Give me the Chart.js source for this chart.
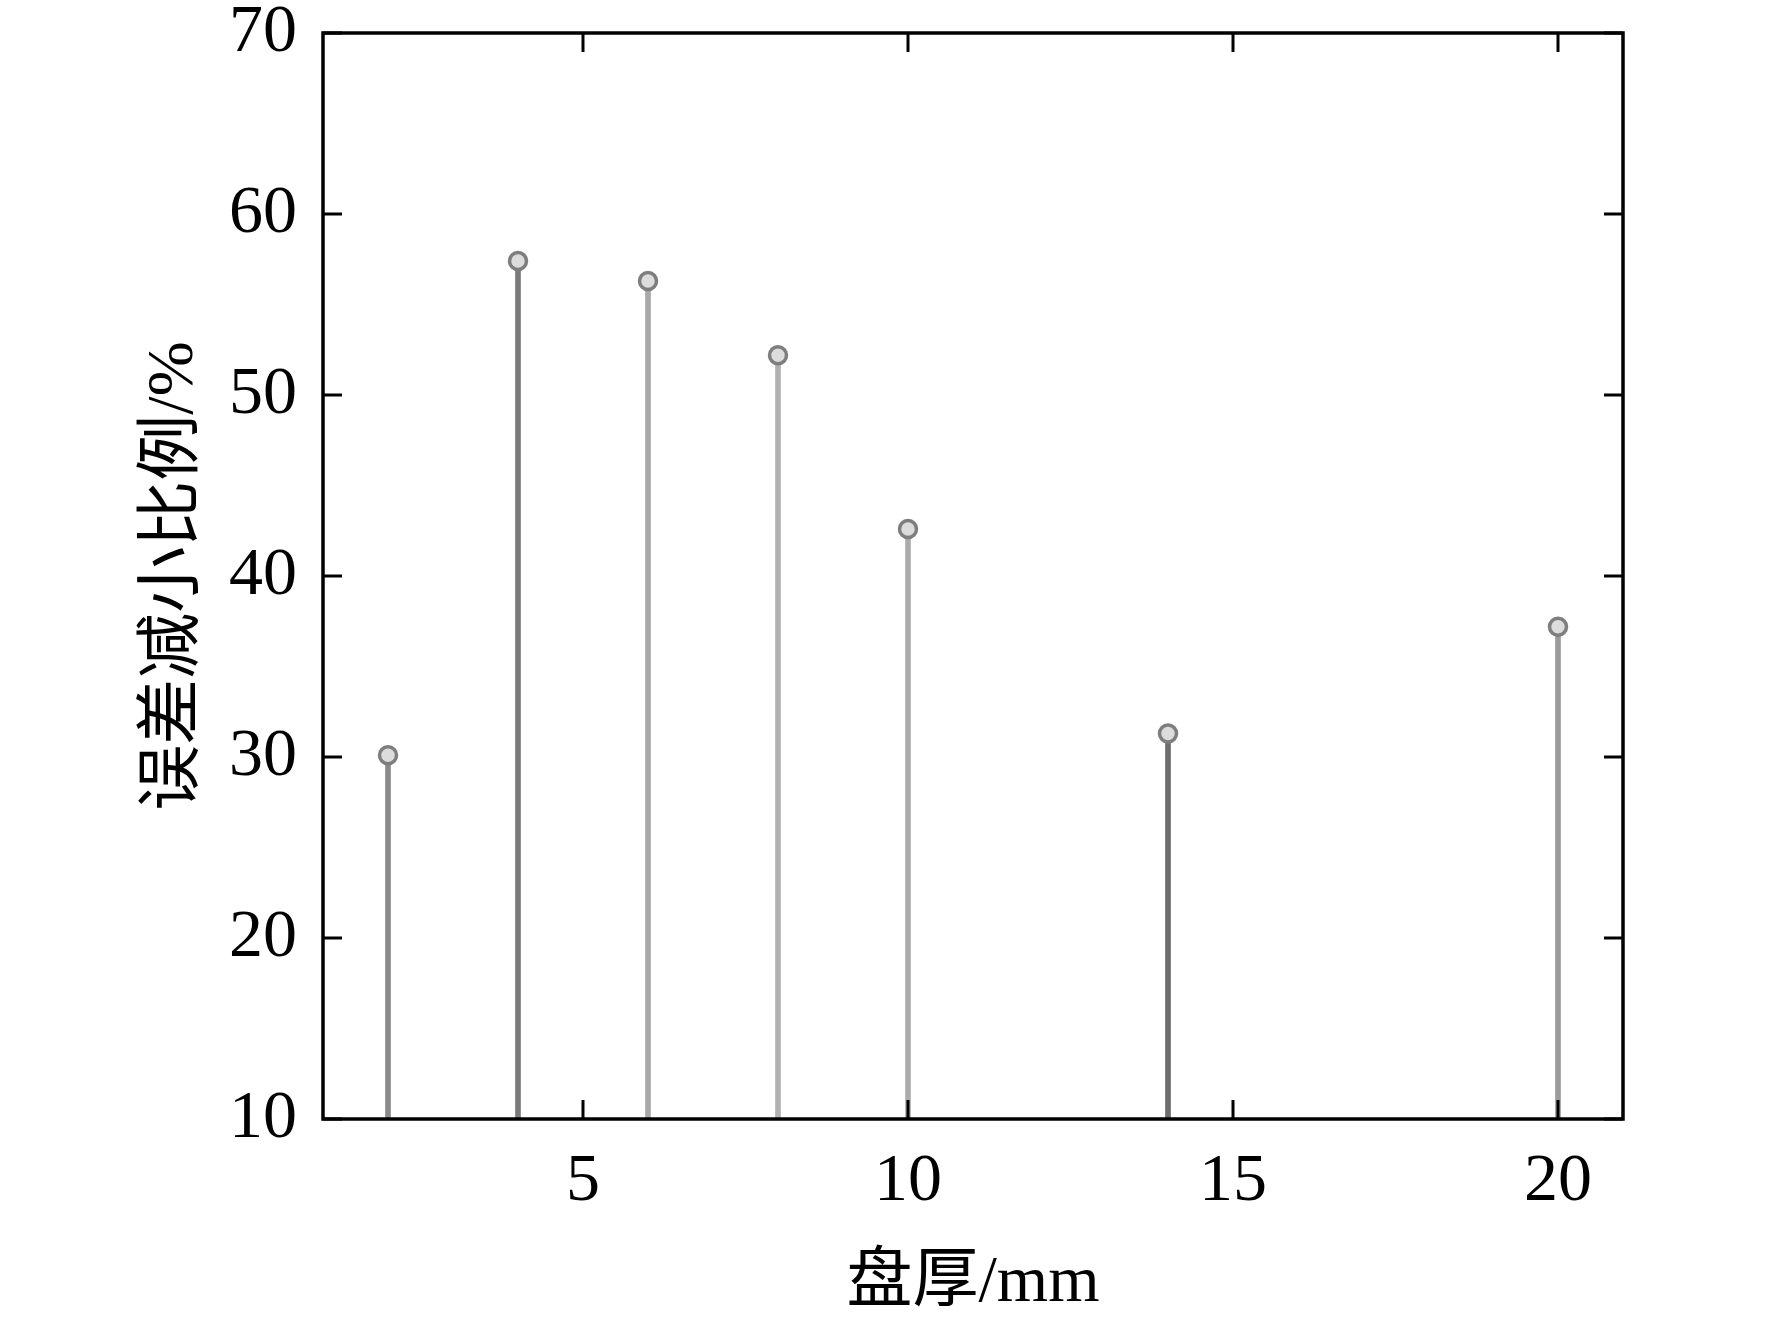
<!DOCTYPE html>
<html>
<head>
<meta charset="utf-8">
<script src="https://cdn.jsdelivr.net/npm/chart.js@4/dist/chart.umd.min.js"></script>
<style>
  html, body { margin: 0; padding: 0; background: #fff; }
  #wrap { width: 1772px; height: 1323px; }
</style>
</head>
<body>
<div id="wrap"><canvas id="chart"></canvas></div>
<script>
// disc thickness (mm) and error reduction ratio (%)
const thickness = [2, 4, 6, 8, 10, 14, 20];
const reduction = [30.1, 57.4, 56.3, 52.2, 42.6, 31.3, 37.2];
const stemColors = ["#8a8a8a", "#7a7a7a", "#a8a8a8", "#b2b2b2", "#acacac", "#6c6c6c", "#9a9a9a"];
const xTicks = [5, 10, 15, 20];
const yTicks = [10, 20, 30, 40, 50, 60, 70];

const fontFamily = "'Liberation Serif', 'Times New Roman', Tinos, 'Noto Sans CJK SC', serif";
const points = thickness.map((t, i) => ({ x: t, y: reduction[i] }));

// box frame with inward ticks on all four sides
const frame = {
  id: "frame",
  afterDraw(chart) {
    const { ctx, chartArea: a, scales } = chart;
    const len = 19;
    ctx.save();
    ctx.strokeStyle = "#000";
    ctx.lineWidth = 3;
    xTicks.forEach(v => {
      const px = scales.x.getPixelForValue(v);
      ctx.beginPath();
      ctx.moveTo(px, a.bottom); ctx.lineTo(px, a.bottom - len);
      ctx.moveTo(px, a.top); ctx.lineTo(px, a.top + len);
      ctx.stroke();
    });
    yTicks.forEach(v => {
      const py = scales.y.getPixelForValue(v);
      ctx.beginPath();
      ctx.moveTo(a.left, py); ctx.lineTo(a.left + len, py);
      ctx.moveTo(a.right, py); ctx.lineTo(a.right - len, py);
      ctx.stroke();
    });
    ctx.lineWidth = 3.5;
    ctx.strokeRect(a.left, a.top, a.right - a.left, a.bottom - a.top);
    ctx.restore();
  }
};

new Chart(document.getElementById("chart"), {
  type: "bar",
  data: {
    datasets: [
      {
        type: "scatter",
        data: points,
        pointRadius: 8.5,
        pointBorderWidth: 3.5,
        pointBorderColor: "#7e7e7e",
        pointBackgroundColor: "#dcdcdc",
        order: 0
      },
      {
        type: "bar",
        data: points,
        backgroundColor: stemColors,
        barThickness: 5,
        base: 10,
        order: 1
      }
    ]
  },
  options: {
    responsive: true,
    maintainAspectRatio: false,
    animation: false,
    layout: { padding: { top: 33, right: 149, left: 0, bottom: 0 } },
    plugins: { legend: { display: false }, tooltip: { enabled: false } },
    scales: {
      x: {
        type: "linear",
        offset: false,
        min: 1,
        max: 21,
        afterBuildTicks: s => { s.ticks = xTicks.map(v => ({ value: v })); },
        afterFit: s => { s.height = 1323 - 1119; s.paddingLeft = 0; s.paddingRight = 0; },
        grid: { display: false, drawTicks: false },
        border: { display: false },
        ticks: { color: "#000", padding: 22, maxRotation: 0, font: { family: fontFamily, size: 68 } },
        title: {
          display: true,
          text: "盘厚/mm",
          color: "#000",
          padding: { top: 28, bottom: 0 },
          font: { family: fontFamily, size: 66 }
        }
      },
      y: {
        min: 10,
        max: 70,
        afterBuildTicks: s => { s.ticks = yTicks.map(v => ({ value: v })); },
        afterFit: s => { s.width = 323; s.paddingTop = 0; s.paddingBottom = 0; },
        grid: { display: false, drawTicks: false },
        border: { display: false },
        ticks: { color: "#000", padding: 26, font: { family: fontFamily, size: 68 } },
        title: {
          display: true,
          text: "误差减小比例/%",
          color: "#000",
          padding: { top: 135, bottom: 0 },
          font: { family: fontFamily, size: 66 }
        }
      }
    }
  },
  plugins: [frame]
});
</script>
</body>
</html>
